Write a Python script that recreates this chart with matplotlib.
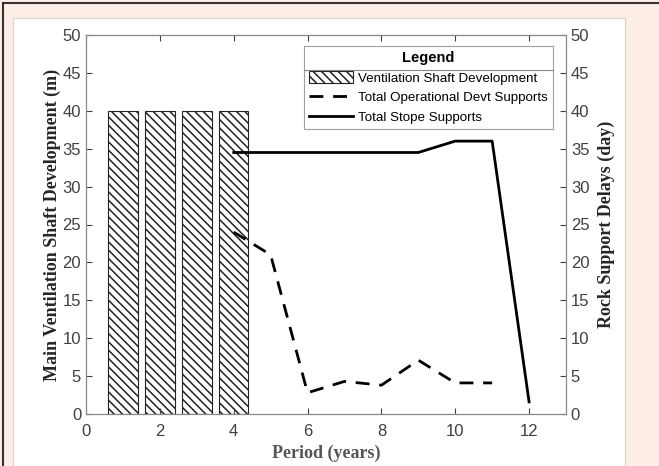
import matplotlib.pyplot as plt
from matplotlib.patches import Rectangle
from matplotlib.lines import Line2D

# data
bar_x = [1, 2, 3, 4]
shaft_dev = [40, 40, 40, 40]
period = [4, 5, 6, 7, 8, 9, 10, 11, 12]
devt_supports = [24, 21, 2.8, 4.3, 3.8, 7.1, 4.1, 4.1, None]
stope_supports = [34.5, 34.5, 34.5, 34.5, 34.5, 34.5, 36, 36, 1.6]

plt.rcParams['hatch.linewidth'] = 1.1
fig = plt.figure(figsize=(6.59, 4.66), dpi=100, facecolor='#fdeee5')

# white panel and dark frame
fig.patches.append(Rectangle((13/659, 0), (625-13)/659, (466-18)/466,
                             transform=fig.transFigure, facecolor='white',
                             edgecolor='#e0d0c8', lw=0.8, zorder=-5))
fig.add_artist(Line2D([3/659, 1], [1-2.5/466, 1-2.5/466], color='#333333', lw=1.5, transform=fig.transFigure))
fig.add_artist(Line2D([3/659, 3/659], [0, 1-2.5/466], color='#333333', lw=1.5, transform=fig.transFigure))

ax = fig.add_axes([86/659, 1-414/466, (566-86)/659, (414-35)/466])
ax.set_facecolor('white')
bars = ax.bar(bar_x, shaft_dev, width=0.8, color='white', edgecolor='#222222',
              hatch='\\\\\\\\', lw=0.8, label='Ventilation Shaft Development')
ax.set_xlim(0, 13)
ax.set_ylim(0, 50)
ax.set_xticks([0, 2, 4, 6, 8, 10, 12])
ax.set_yticks(range(0, 51, 5))

ax2 = ax.twinx()
px = [p for p, v in zip(period, devt_supports) if v is not None]
pv = [v for v in devt_supports if v is not None]
l1, = ax2.plot(px, pv, '--', color='black', lw=2, dashes=(5, 3.5),
               label='Total Operational Devt Supports')
l2, = ax2.plot(period, stope_supports, '-', color='black', lw=2,
               label='Total Stope Supports')
ax2.set_ylim(0, 50)
ax2.set_yticks(range(0, 51, 5))

for a in (ax, ax2):
    a.tick_params(direction='in', colors='#404040', length=4, width=0.8, labelsize=12)
    for lab in a.get_xticklabels() + a.get_yticklabels():
        lab.set_fontfamily('Liberation Sans')
    for s in a.spines.values():
        s.set_color('#888888')
        s.set_linewidth(0.8)
ax.tick_params(top=True, labeltop=False)
ax.tick_params(axis='x', pad=7)

lab_font = dict(family='Liberation Serif', weight='bold', size=13, color='#262626')
ax.set_ylabel('Main Ventilation Shaft Development (m)', labelpad=1, **lab_font)
ax2.set_ylabel('Rock Support Delays (day)', labelpad=6, **lab_font)
ax.set_xlabel('Period (years)', labelpad=4, **{**lab_font, 'color': '#555555'})

handles = [bars, l1, l2]
labels = ['Ventilation Shaft Development', 'Total Operational Devt Supports',
          'Total Stope Supports']
leg = ax2.legend(handles=handles, labels=labels,
                 title='Legend', loc='upper right', bbox_to_anchor=(0.973, 0.971),
                 borderaxespad=0, frameon=True, fancybox=False, edgecolor='#888888',
                 prop={'family': 'Liberation Sans', 'size': 9.6},
                 handlelength=3.3, handleheight=1.0, handletextpad=0.35,
                 borderpad=0.4, labelspacing=0.45)
leg.get_title().set_fontfamily('Liberation Sans')
leg.get_title().set_fontweight('bold')
leg.get_title().set_fontsize(10.5)
leg.get_frame().set_linewidth(0.8)

fig.canvas.draw()
bb = leg.get_window_extent()
tb = leg.get_title().get_window_extent()
ysep = tb.y0 - 5
fig.add_artist(Line2D([bb.x0 / fig.bbox.width, bb.x1 / fig.bbox.width],
                      [ysep / fig.bbox.height] * 2, color='#888888', lw=0.8,
                      transform=fig.transFigure))

plt.savefig('out.png', dpi=100, facecolor=fig.get_facecolor())
